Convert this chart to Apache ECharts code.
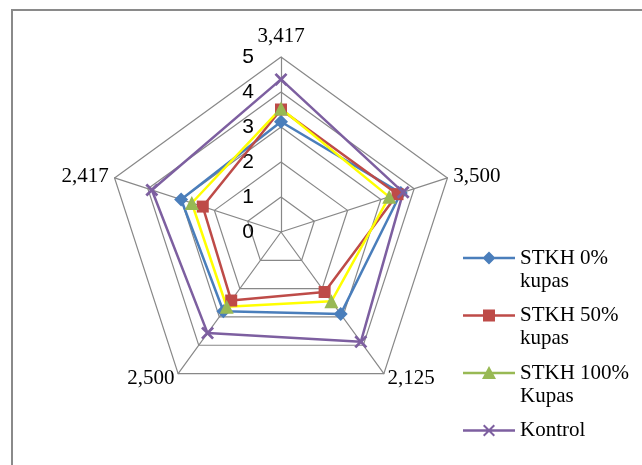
<!DOCTYPE html>
<html><head><meta charset="utf-8">
<script src="https://cdn.jsdelivr.net/npm/echarts@6/dist/echarts.min.js"></script>
<style>html,body{margin:0;padding:0;background:#fff}#c{width:642px;height:465px}</style>
</head><body><div id="c"></div>
<script>
// Axis order as in the original (clockwise from top)
const axisNames = ['3,417', '3,500', '2,125', '2,500', '2,417'];
const tickLabels = ['0', '1', '2', '3', '4', '5'];
const seriesNames = ['STKH 0%\nkupas', 'STKH 50%\nkupas', 'STKH 100%\nKupas', 'Kontrol'];
const stkh0 = [3.15, 3.6, 2.9, 2.8, 3.0];
const stkh50 = [3.5, 3.5, 2.12, 2.42, 2.35];
const stkh100 = [3.53, 3.25, 2.45, 2.64, 2.68];
const kontrol = [4.36, 3.67, 3.88, 3.57, 3.88];

// ECharts lays radar indicators counter-clockwise; reorder to keep clockwise layout
const order = [0, 4, 3, 2, 1];
const reorder = arr => order.map(i => arr[i]);

const serifFont = '"Liberation Serif", "DejaVu Serif", serif';

function legendIcon(marker, top) {
  // box 52 x 46; line centred at y (top line or middle)
  const y = top ? 11.5 : 23;
  const line = `M0,${y - 1.3}H52V${y + 1.3}H0Z`;
  let m = '';
  if (marker === 'diamond') m = `M26,${y - 6.5}L32.5,${y}L26,${y + 6.5}L19.5,${y}Z`;
  if (marker === 'rect') m = `M20,${y - 6}H32V${y + 6}H20Z`;
  if (marker === 'triangle') m = `M26,${y - 7}L33,${y + 6}L19,${y + 6}Z`;
  if (marker === 'x') {
    const c = 26, s = 6, t = 1.4;
    m = `M${c - s},${y - s + t}L${c - s + t},${y - s}L${c},${y - t}L${c + s - t},${y - s}L${c + s},${y - s + t}L${c + t},${y}L${c + s},${y + s - t}L${c + s - t},${y + s}L${c},${y + t}L${c - s + t},${y + s}L${c - s},${y + s - t}L${c - t},${y}Z`;
  }
  return 'path://M0,0 ' + line + ' ' + m + ' M52,46';
}

const xSymbol = 'path://M0,1.5L1.5,0L5,3.5L8.5,0L10,1.5L6.5,5L10,8.5L8.5,10L5,6.5L1.5,10L0,8.5L3.5,5Z';

const markers = ['diamond', 'rect', 'triangle', 'x'];
const symbols = ['diamond', 'rect', 'triangle', xSymbol];
const symbolSizes = [14, 12, 14, 13];
const markerColors = ['#4A7EBB', '#BE4B48', '#98B954', '#7D5FA0'];
const lineColors = ['#4A7EBB', '#BE4B48', '#FFFF00', '#7D5FA0'];
const values = [stkh0, stkh50, stkh100, kontrol];

const indicator = reorder(axisNames).map((n, i) => {
  const ind = { name: n, min: 0, max: 5 };
  if (i === 0) {
    ind.axisLabel = {
      show: true,
      color: '#000',
      fontFamily: '"Liberation Sans", Arial, sans-serif',
      fontSize: 21,
      margin: 27,
      padding: [10, 0, 0, 0],
      formatter: v => tickLabels[Math.round(v)]
    };
  }
  return ind;
});

const chart = echarts.init(document.getElementById('c'), null, { renderer: 'canvas' });
chart.setOption({
  animation: false,
  backgroundColor: '#fff',
  graphic: [{
    type: 'rect',
    shape: { x: 12, y: 10, width: 640, height: 470 },
    style: { fill: 'none', stroke: '#8A8A8A', lineWidth: 2 },
    z: -1
  }],
  legend: {
    orient: 'vertical',
    left: 463,
    top: 246.5,
    height: 300,
    padding: 0,
    itemWidth: 52,
    itemHeight: 46,
    itemGap: 11.5,
    textStyle: { fontFamily: serifFont, fontSize: 21, color: '#000', lineHeight: 23 },
    formatter: name => name.indexOf('\n') < 0 ? name + '\n' : name,
    data: seriesNames.map((n, i) => ({ name: n, icon: legendIcon(markers[i], true) }))
  },
  radar: {
    center: [281, 232],
    radius: 175,
    shape: 'polygon',
    splitNumber: 5,
    axisName: { color: '#000', fontFamily: serifFont, fontSize: 21 },
    nameGap: 6,
    axisLine: { lineStyle: { color: '#888888', width: 1.2 } },
    splitLine: { lineStyle: { color: '#888888', width: 1.2 } },
    splitArea: { show: false },
    axisTick: { show: false },
    axisLabel: { show: false },
    indicator: indicator
  },
  series: [{
    type: 'radar',
    data: values.map((v, i) => ({
      name: seriesNames[i],
      value: reorder(v),
      symbol: symbols[i],
      symbolSize: symbolSizes[i],
      itemStyle: { color: markerColors[i] },
      lineStyle: { color: lineColors[i], width: 2.5 }
    }))
  }]
});
</script></body></html>
